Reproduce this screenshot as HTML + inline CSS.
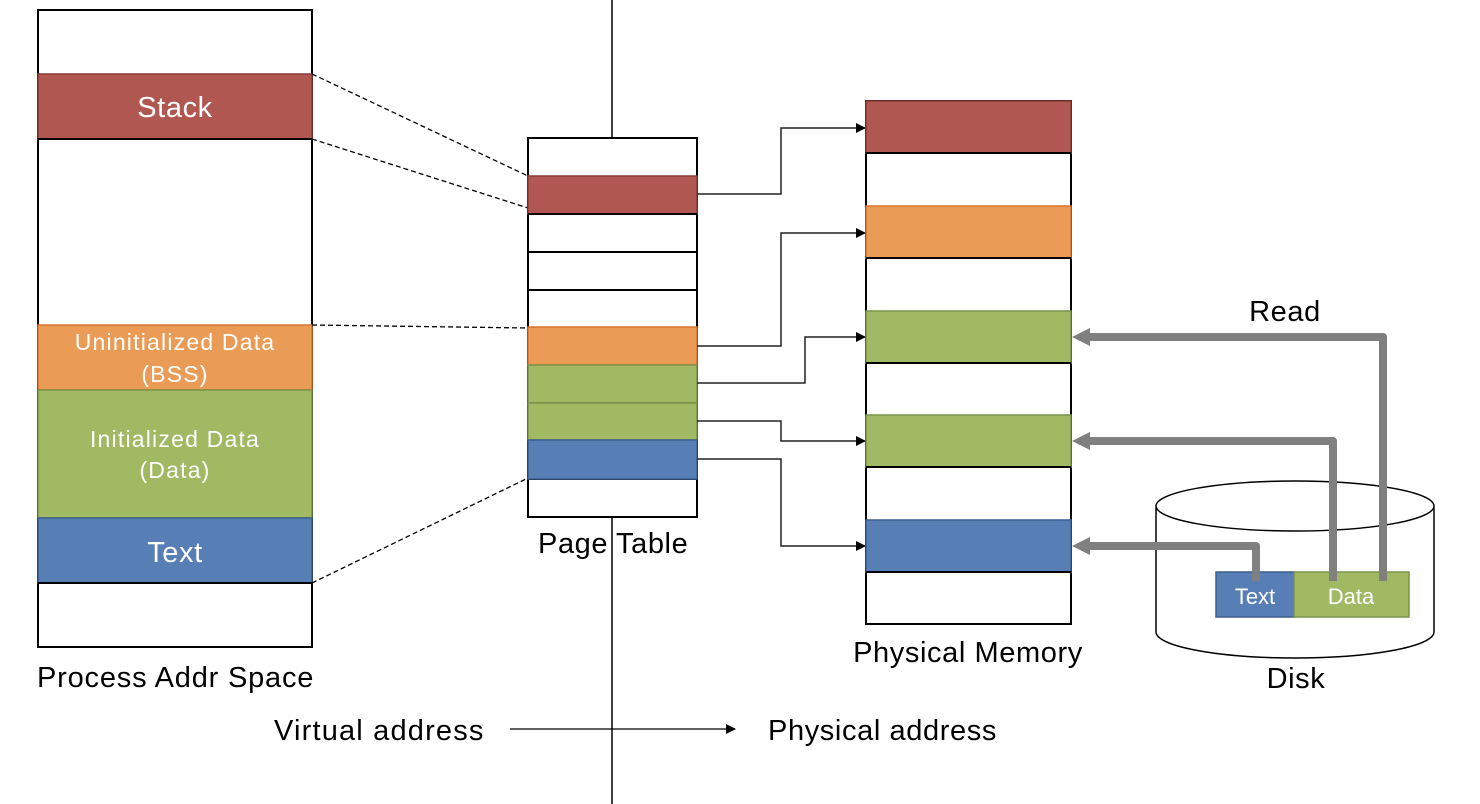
<!DOCTYPE html>
<html><head><meta charset="utf-8"><style>
html,body{margin:0;padding:0;background:#fff;}
svg{display:block;}
text{font-family:"Liberation Sans",sans-serif;}
.big{font-size:29px;letter-spacing:0.6px;}
</style></head><body>
<svg width="1480" height="804" viewBox="0 0 1480 804" xmlns="http://www.w3.org/2000/svg">
<defs>
<marker id="ab" markerWidth="10" markerHeight="10" refX="9" refY="5" orient="auto" markerUnits="userSpaceOnUse"><path d="M0,0 L10,5 L0,10 z" fill="#000"/></marker>
</defs>
<line x1="612" y1="0" x2="612" y2="804" stroke="#000" stroke-width="1.5"/>

<rect x="38" y="10" width="274" height="637" fill="#fff" stroke="#000" stroke-width="2"/>
<rect x="38" y="74" width="274" height="65" fill="#b05751" stroke="#8c3c37" stroke-width="1.5"/>
<rect x="38" y="325" width="274" height="65" fill="#ea9b55" stroke="#d8742e" stroke-width="1.5"/>
<rect x="38" y="390" width="274" height="128" fill="#a1b963" stroke="#7a9448" stroke-width="1.5"/>
<rect x="38" y="518" width="274" height="65" fill="#577fb6" stroke="#3c5e8e" stroke-width="1.5"/>
<line x1="38" y1="583" x2="312" y2="583" stroke="#000" stroke-width="2"/>
<line x1="38" y1="139" x2="312" y2="139" stroke="#000" stroke-width="2"/>
<text x="175" y="117" fill="#fff" class="big" text-anchor="middle">Stack</text>
<text x="175" y="350" fill="#fff" font-size="23" letter-spacing="1.2" text-anchor="middle">Uninitialized Data</text>
<text x="175" y="382" fill="#fff" font-size="23" letter-spacing="1.2" text-anchor="middle">(BSS)</text>
<text x="175" y="447" fill="#fff" font-size="23" letter-spacing="1.2" text-anchor="middle">Initialized Data</text>
<text x="175" y="478" fill="#fff" font-size="23" letter-spacing="1.2" text-anchor="middle">(Data)</text>
<text x="175" y="562" fill="#fff" class="big" text-anchor="middle">Text</text>
<text x="37" y="687" fill="#000" class="big" textLength="277" lengthAdjust="spacing">Process Addr Space</text>

<g stroke="#000" stroke-width="1.3" stroke-dasharray="5,3">
<line x1="312" y1="74" x2="528" y2="176"/>
<line x1="312" y1="139" x2="528" y2="208"/>
<line x1="312" y1="325" x2="528" y2="328"/>
<line x1="312" y1="583" x2="528" y2="478"/>
</g>

<rect x="528" y="138" width="169" height="379" fill="#fff" stroke="#000" stroke-width="2"/>
<g stroke="#000" stroke-width="2">
<line x1="528" y1="252" x2="697" y2="252"/>
<line x1="528" y1="290" x2="697" y2="290"/>
<line x1="528" y1="479" x2="697" y2="479"/>
</g>
<rect x="528" y="176" width="169" height="38" fill="#b05751" stroke="#8c3c37" stroke-width="1.5"/>
<line x1="528" y1="214" x2="697" y2="214" stroke="#000" stroke-width="2"/>
<rect x="528" y="327" width="169" height="38" fill="#ea9b55" stroke="#d8742e" stroke-width="1.5"/>
<rect x="528" y="365" width="169" height="38" fill="#a1b963" stroke="#7a9448" stroke-width="1.5"/>
<rect x="528" y="403" width="169" height="37" fill="#a1b963" stroke="#7a9448" stroke-width="1.5"/>
<rect x="528" y="440" width="169" height="39" fill="#577fb6" stroke="#3c5e8e" stroke-width="1.5"/>
<text x="538" y="553" fill="#000" class="big">Page</text>
<text x="616" y="553" fill="#000" class="big">Table</text>

<g stroke="#222" stroke-width="1.5" fill="none" marker-end="url(#ab)">
<polyline points="697,194 781,194 781,128 865,128"/>
<polyline points="697,346 781,346 781,233 865,233"/>
<polyline points="697,383 805,383 805,337 865,337"/>
<polyline points="697,421 781,421 781,441 865,441"/>
<polyline points="697,459 781,459 781,546 865,546"/>
</g>

<rect x="866" y="101" width="205" height="523" fill="#fff" stroke="#000" stroke-width="2"/>
<rect x="866" y="101" width="205" height="52" fill="#b05751" stroke="#8c3c37" stroke-width="1.5"/>
<rect x="866" y="206" width="205" height="52" fill="#ea9b55" stroke="#d8742e" stroke-width="1.5"/>
<rect x="866" y="311" width="205" height="52" fill="#a1b963" stroke="#7a9448" stroke-width="1.5"/>
<rect x="866" y="415" width="205" height="52" fill="#a1b963" stroke="#7a9448" stroke-width="1.5"/>
<rect x="866" y="520" width="205" height="52" fill="#577fb6" stroke="#3c5e8e" stroke-width="1.5"/>
<g stroke="#000" stroke-width="2">
<line x1="866" y1="153" x2="1071" y2="153"/>
<line x1="866" y1="258" x2="1071" y2="258"/>
<line x1="866" y1="363" x2="1071" y2="363"/>
<line x1="866" y1="467" x2="1071" y2="467"/>
<line x1="866" y1="572" x2="1071" y2="572"/>
</g>
<text x="968" y="662" fill="#000" class="big" text-anchor="middle">Physical Memory</text>

<path d="M1156,507 L1156,632 A139,26 0 0 0 1434,632 L1434,507" fill="#fff" stroke="#000" stroke-width="1.5"/>
<ellipse cx="1295" cy="506" rx="139" ry="25" fill="#fff" stroke="#000" stroke-width="1.5"/>
<rect x="1216" y="572" width="78" height="45" fill="#577fb6" stroke="#3c5e8e" stroke-width="1.5"/>
<rect x="1294" y="572" width="115" height="45" fill="#a1b963" stroke="#7a9448" stroke-width="1.5"/>
<text x="1255" y="604" fill="#fff" font-size="22" text-anchor="middle">Text</text>
<text x="1351" y="604" fill="#fff" font-size="22" text-anchor="middle">Data</text>
<text x="1296" y="688" fill="#000" class="big" text-anchor="middle">Disk</text>

<g stroke="#808080" stroke-width="8" fill="none" stroke-linejoin="round">
<polyline points="1383,581 1383,337 1088,337"/>
<polyline points="1333,581 1333,441 1088,441"/>
<polyline points="1256,581 1256,546 1088,546"/>
</g>
<g fill="#808080">
<polygon points="1072,337 1090,328 1090,346"/>
<polygon points="1072,441 1090,432 1090,450"/>
<polygon points="1072,546 1090,537 1090,555"/>
</g>
<text x="1285" y="321" fill="#000" class="big" text-anchor="middle">Read</text>

<text x="274" y="740" fill="#000" class="big" textLength="210" lengthAdjust="spacing">Virtual address</text>
<line x1="510" y1="729" x2="735" y2="729" stroke="#000" stroke-width="1.3" marker-end="url(#ab)"/>
<text x="768" y="740" fill="#000" class="big" textLength="229" lengthAdjust="spacing">Physical address</text>
</svg>
</body></html>
